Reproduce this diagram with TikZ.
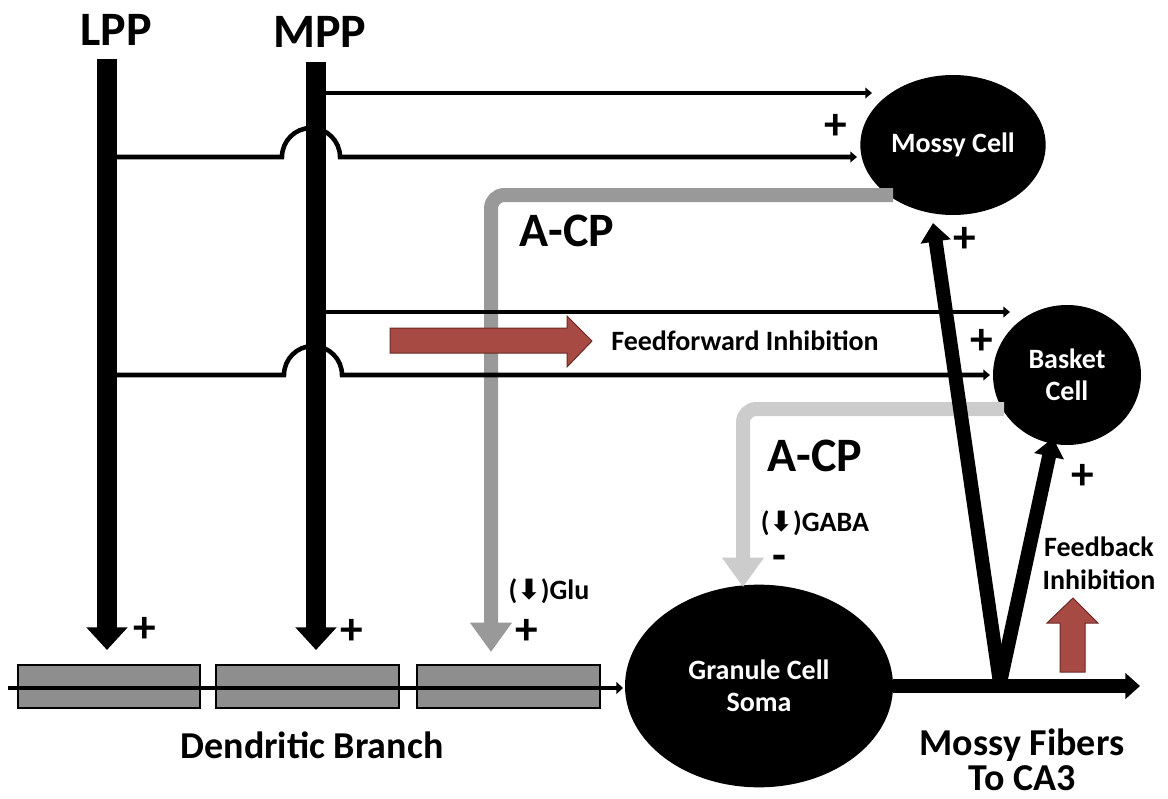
\documentclass[tikz,border=0pt]{standalone}
\usepackage{fontspec}
\setmainfont{Carlito}
\newfontfamily\symfont{DejaVu Sans}
\usetikzlibrary{arrows.meta,shapes.geometric}

\definecolor{acpdark}{RGB}{153,153,153}
\definecolor{acplight}{RGB}{204,204,204}
\definecolor{dendgray}{RGB}{142,142,142}
\definecolor{inhred}{RGB}{168,74,68}
\definecolor{inhredline}{RGB}{105,42,38}

\newcommand\downglyph{{\symfont\bfseries ⬇}}

\tikzset{
  neuron/.style={ellipse, fill=black, text=white, align=center, inner sep=0pt,
    font=\fontsize{21}{24}\selectfont\bfseries},
  title/.style={font=\fontsize{36}{40}\selectfont\bfseries},
  midlabel/.style={font=\fontsize{28.5}{26}\selectfont\bfseries, align=center},
  smalllabel/.style={font=\fontsize{21}{25}\selectfont\bfseries, align=center},
  sign/.style={font=\fontsize{34}{34}\selectfont\bfseries, inner sep=0pt},
  pathway/.style={line width=15pt, -{Triangle[length=17pt,width=30pt]}},
  axon/.style={line width=3.4pt, -{Triangle[length=5pt,width=8pt]}},
  fiber/.style={line width=10.5pt, -{Triangle[length=14pt,width=22pt]}},
  acp/.style={line width=10.5pt, rounded corners=10pt, -{Triangle[length=22pt,width=30pt]}},
  dendseg/.style={fill=dendgray, draw=black, line width=0.8pt},
}

\begin{document}
\begin{tikzpicture}[x=0.75pt,y=0.75pt,yscale=-1,xscale=1]
\useasboundingbox (0,0) rectangle (1168,799);

% Cells
\node[neuron, minimum width=139pt, minimum height=105pt] (mossy) at (953,145) {Mossy Cell};
\node[neuron, minimum width=111pt, minimum height=105pt] (basket) at (1067,375) {Basket\\Cell};
\node[neuron, minimum width=201pt, minimum height=152pt] (granule) at (759,686) {Granule Cell\\Soma};

% Coordinates
\coordinate (lppTop) at (107,59);
\coordinate (lppEnd) at (107,650);
\coordinate (mppTop) at (316,62);
\coordinate (mppEnd) at (316,650);
\coordinate (mpp1) at (326,93);
\coordinate (lpp1) at (117,157);
\coordinate (mpp2) at (326,312);
\coordinate (lpp2) at (117,375);
\coordinate (mc1) at (872,93);
\coordinate (mc2) at (857,157);
\coordinate (bc1) at (1010,312);
\coordinate (bc2) at (990,375);
\coordinate (mossyOut) at (893,195);
\coordinate (gluIn) at (491,652);
\coordinate (basketOut) at (1004,409);
\coordinate (gabaIn) at (743,587);
\coordinate (dendStart) at (8,688);
\coordinate (dendEnd) at (623,688);
\coordinate (split) at (1000,683);
\coordinate (mossyIn) at (933,223);
\coordinate (basketIn) at (1053,438);
\coordinate (ca3) at (1140,686);

% A-CP projections
\draw[acp, color=acpdark] (mossyOut) -| (gluIn);
\draw[acp, color=acplight] (basketOut) -| (gabaIn);

% Dendritic branch
\draw[dendseg] (18,665) rectangle (200,708);
\draw[dendseg] (216,665) rectangle (399,708);
\draw[dendseg] (417,665) rectangle (600,708);
\draw[line width=3.6pt, -{Triangle[length=5pt,width=9pt]}] (dendStart) -- (dendEnd);

% Perforant paths
\draw[pathway] (lppTop) -- (lppEnd);
\draw[pathway] (mppTop) -- (mppEnd);
\draw[axon] (mpp1) -- (mc1);
\draw[axon] (lpp1) -- (282,157) arc[start angle=180, end angle=360, radius=29] -- (mc2);
\draw[axon] (mpp2) -- (bc1);
\draw[axon] (lpp2) -- (284,375) arc[start angle=180, end angle=360, radius=29] -- (bc2);

% Mossy fibers
\draw[line width=10.5pt, -{Triangle[length=11pt,width=19pt]}] (granule.east) -- (ca3);
\draw[fiber] (split) -- (mossyIn);
\draw[fiber] (split) -- (basketIn);

% Inhibition arrows
\filldraw[fill=inhred, draw=inhredline, line width=0.75pt] (390,328) -- (567,328) -- (567,316) -- (592,341) -- (567,367) -- (567,353) -- (390,353) -- cycle;
\filldraw[fill=inhred, draw=inhredline, line width=0.75pt] (1060,672) -- (1060,623) -- (1047,623) -- (1073,598) -- (1098,623) -- (1085,623) -- (1085,672) -- cycle;

% Labels
\node[title] (lpp) at (116,30) {LPP};
\node[title] (mpp) at (320,32) {MPP};
\node[title] (acpA) at (567,231) {A-CP};
\node[title] (acpB) at (815,456) {A-CP};
\node[smalllabel] (ffi) at (745,341) {Feedforward Inhibition};
\node[smalllabel] (fbi) at (1099,563) {Feedback\\Inhibition};
\node[midlabel] (mf) at (1022,760) {Mossy Fibers\\To CA3};
\node[midlabel] (dend) at (312,745) {Dendritic Branch};
\node[smalllabel] (glu) at (549,591) {(\downglyph)Glu};
\node[smalllabel] (gaba) at (815,523) {(\downglyph)GABA};

% Signs
\node[sign] (plusA) at (145,630) {+};
\node[sign] (plusB) at (352,632) {+};
\node[sign] (plusC) at (527,632) {+};
\node[sign] (plusD) at (836,127) {+};
\node[sign] (plusE) at (965,240) {+};
\node[sign] (plusF) at (982,342) {+};
\node[sign] (plusG) at (1083,477) {+};
\node[sign, text height=0.35em, text depth=0pt] (minusA) at (779,568) {-};

\end{tikzpicture}
\end{document}
